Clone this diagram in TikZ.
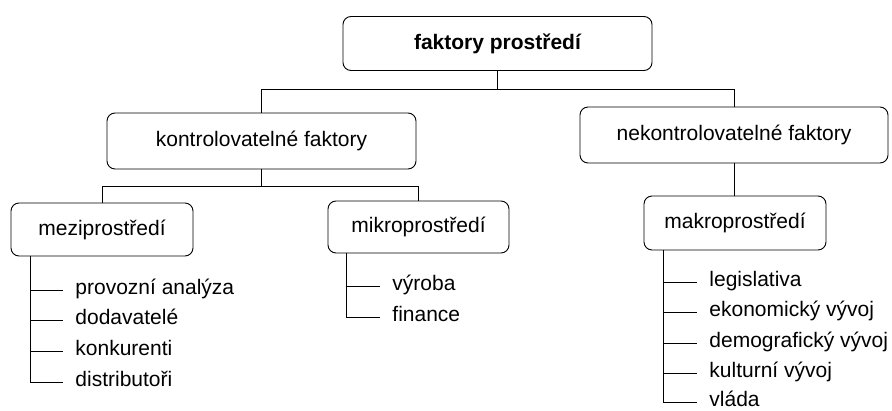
\documentclass[tikz,border=0pt]{standalone}
\usepackage{fontspec}
\setmainfont{Liberation Sans}
\usetikzlibrary{positioning}

\begin{document}
\begin{tikzpicture}[x=1pt, y=-1pt, line width=0.9pt,
  every node/.style={font=\fontsize{21}{25}\selectfont},
  box/.style={draw, rounded corners=8pt, minimum height=54pt, inner sep=0pt},
  item/.style={anchor=west, inner xsep=12pt, inner ysep=0pt, text height=13pt, text depth=4pt}]
  \useasboundingbox (0,0) rectangle (892,410);
  % boxes
  \node[box, minimum width=309pt, font=\bfseries\fontsize{21}{25}\selectfont] (faktory) at (497.5,43.5) {faktory prostředí};
  \node[box, minimum width=309pt, minimum height=56pt] (kontrol) at (261.5,141) {kontrolovatelné faktory};
  \node[box, minimum width=308pt, minimum height=56pt] (nekontrol) at (734,135) {nekontrolovatelné faktory};
  \node[box, minimum width=182pt, minimum height=53pt] (mezi) at (102,229.5) {meziprostředí};
  \node[box, minimum width=181pt, minimum height=52pt] (mikro) at (418.5,227) {mikroprostředí};
  \node[box, minimum width=182pt] (makro) at (735,223) {makroprostředí};
  % branches
  \coordinate (split1) at ([yshift=-18pt]faktory.south);
  \draw (faktory.south) -- (split1);
  \draw (kontrol.north) |- (split1) -| (nekontrol.north);
  \coordinate (split2) at ([yshift=-17pt]kontrol.south);
  \draw (kontrol.south) -- (split2);
  \draw (mezi.north) |- (split2) -| (mikro.north);
  \draw (nekontrol.south) -- (nekontrol.south |- makro.north);
  % meziprostredi
  \node[item] (mezi-1) at (63,290) {provozní analýza};
  \node[item] (mezi-2) at (63,320) {dodavatelé};
  \node[item] (mezi-3) at (63,351) {konkurenti};
  \node[item] (mezi-4) at (63,382) {distributoři};
  \coordinate (mezi-l) at ([xshift=20pt]mezi.south west);
  \draw (mezi-l) |- (mezi-4.west);
  \foreach \i in {1,2,3}
    \draw (mezi-l |- mezi-\i.west) -- (mezi-\i.west);
  % mikroprostredi
  \node[item] (mikro-1) at (380,286) {výroba};
  \node[item] (mikro-2) at (380,317) {finance};
  \coordinate (mikro-l) at ([xshift=19pt]mikro.south west);
  \draw (mikro-l) |- (mikro-2.west);
  \draw (mikro-l |- mikro-1.west) -- (mikro-1.west);
  % makroprostredi
  \node[item] (makro-1) at (697,282) {legislativa};
  \node[item] (makro-2) at (697,312) {ekonomický vývoj};
  \node[item] (makro-3) at (697,343) {demografický vývoj};
  \node[item] (makro-4) at (697,373) {kulturní vývoj};
  \node[item] (makro-5) at (697,402) {vláda};
  \coordinate (makro-l) at ([xshift=20pt]makro.south west);
  \draw (makro-l) |- (makro-5.west);
  \foreach \i in {1,2,3,4}
    \draw (makro-l |- makro-\i.west) -- (makro-\i.west);
\end{tikzpicture}
\end{document}
